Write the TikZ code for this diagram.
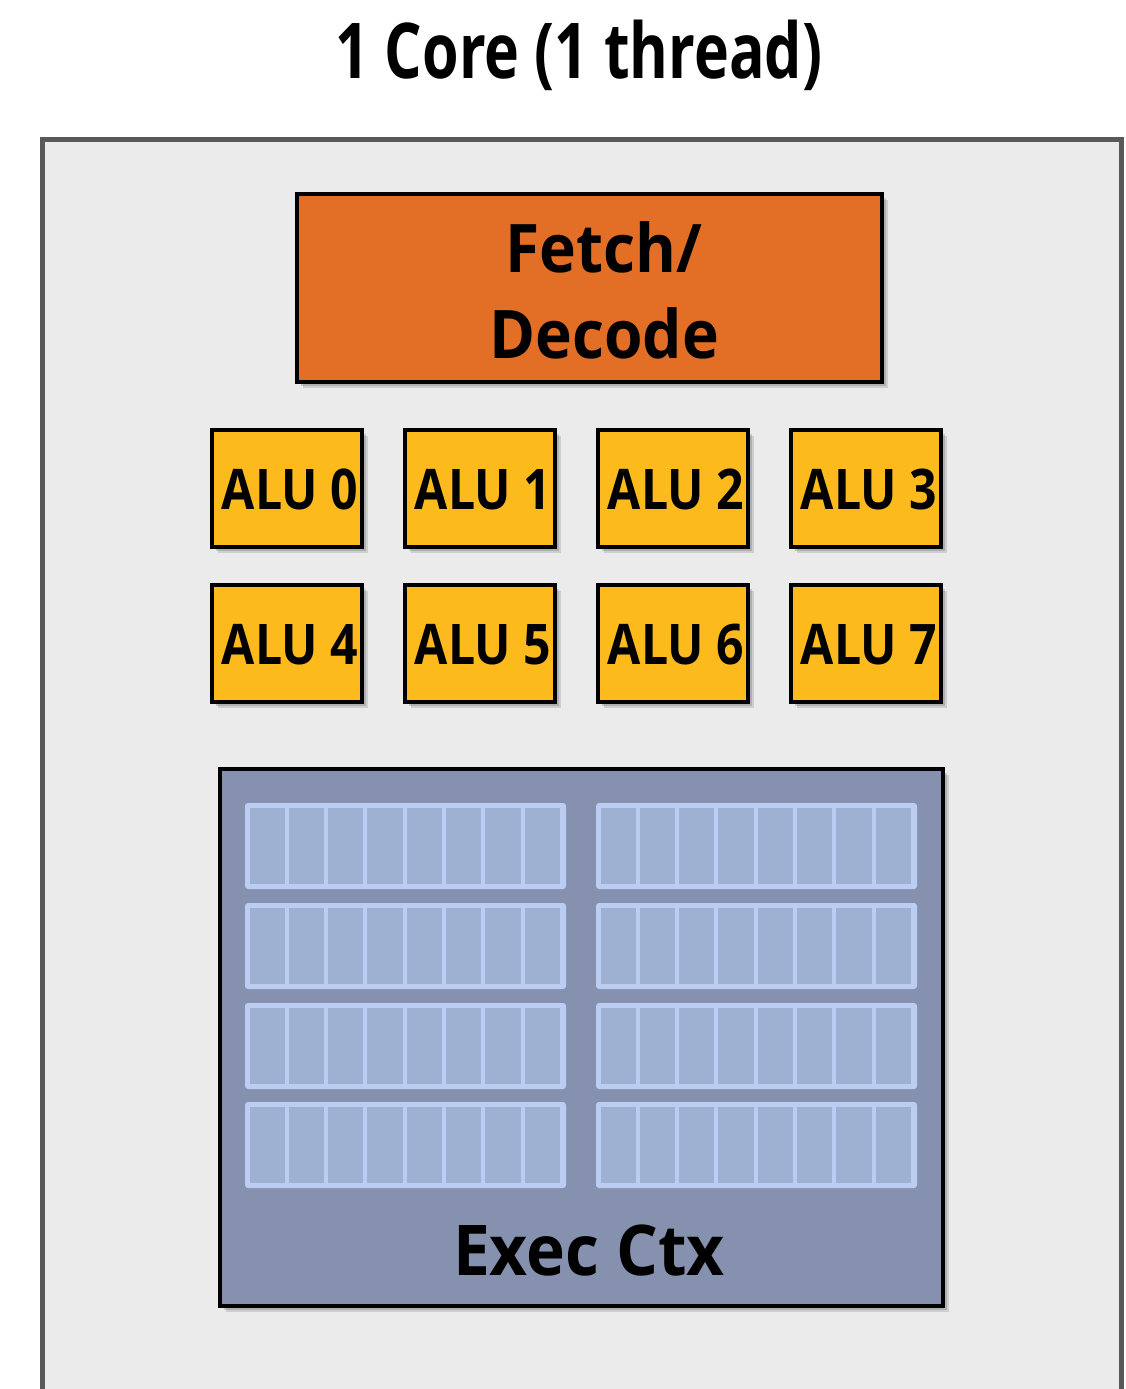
\documentclass[tikz,border=0pt]{standalone}
\usepackage{fontspec}
\setmainfont{Open Sans}
\usetikzlibrary{shadows}
\definecolor{corefill}{HTML}{EBEBEB}
\definecolor{coreline}{HTML}{595959}
\definecolor{fetchfill}{HTML}{E36E26}
\definecolor{alufill}{HTML}{FDBA1C}
\definecolor{ctxfill}{HTML}{8591AE}
\definecolor{regline}{HTML}{BCCDF3}
\definecolor{regfill}{HTML}{9FB1D3}
\begin{document}
\begin{tikzpicture}[x=1pt,y=-1pt,
  unitbox/.style={draw=black, line width=4pt, inner sep=0pt,
    drop shadow={shadow xshift=6pt, shadow yshift=-6pt, opacity=0.12, fill=black},
    drop shadow={shadow xshift=4pt, shadow yshift=-4pt, opacity=0.15, fill=black}},
  alubox/.style={unitbox, fill=alufill, minimum width=150, minimum height=117},
  lbl/.style={inner sep=0pt, anchor=base, font=\bfseries},
  grp/.style={fill=regline, rounded corners=3pt},
  cell/.style={fill=regfill}
]
\useasboundingbox (0,0) rectangle (1126,1389);
\fill[white] (0,0) rectangle (1126,1389);
% core
\fill[corefill] (42.5,139.5) rectangle (1121.5,1400);
\draw[coreline, line width=5pt] (42.5,1400) -- (42.5,139.5) -- (1121.5,139.5) -- (1121.5,1400);
\node[lbl] (title) at (579,78) {\fontsize{77}{90}\selectfont\scalebox{0.767}[1]{1 Core (1 thread)}};
% fetch/decode
\node[unitbox, fill=fetchfill, minimum width=585, minimum height=188] (fetch) at (589.5,288) {};
\node[lbl] (fetchl1) at (604,272) {\fontsize{67}{80}\selectfont\scalebox{0.93}[1]{Fetch/}};
\node[lbl] (fetchl2) at (604,358) {\fontsize{67}{80}\selectfont\scalebox{0.93}[1]{Decode}};
% ALUs
\foreach \i/\x/\y in {0/287/488.5, 1/480/488.5, 2/673/488.5, 3/866/488.5,
                      4/287/643.5, 5/480/643.5, 6/673/643.5, 7/866/643.5}{
  \node[alubox] (alu\i) at (\x,\y) {};
  \node[lbl] (alul\i) at (\x+3,\y+21) {\fontsize{56}{60}\selectfont\scalebox{0.86}[1]{ALU \i}};
}
% exec ctx
\node[unitbox, fill=ctxfill, minimum width=723, minimum height=537] (ctx) at (581.5,1037.5) {};
\node[lbl] (ctxl) at (589,1275) {\fontsize{70}{80}\selectfont\scalebox{0.94}[1]{Exec Ctx}};
\foreach \gx in {245,596}{
  \foreach \gy in {803,903,1003,1102}{
    \fill[grp] (\gx,\gy) rectangle (\gx+321,\gy+86);
    \foreach \k in {0,...,7}{
      \fill[cell] (\gx+4.5+\k*39.3,\gy+5) rectangle (\gx+4.5+\k*39.3+35.3,\gy+81);
    }
  }
}
\end{tikzpicture}
\end{document}
